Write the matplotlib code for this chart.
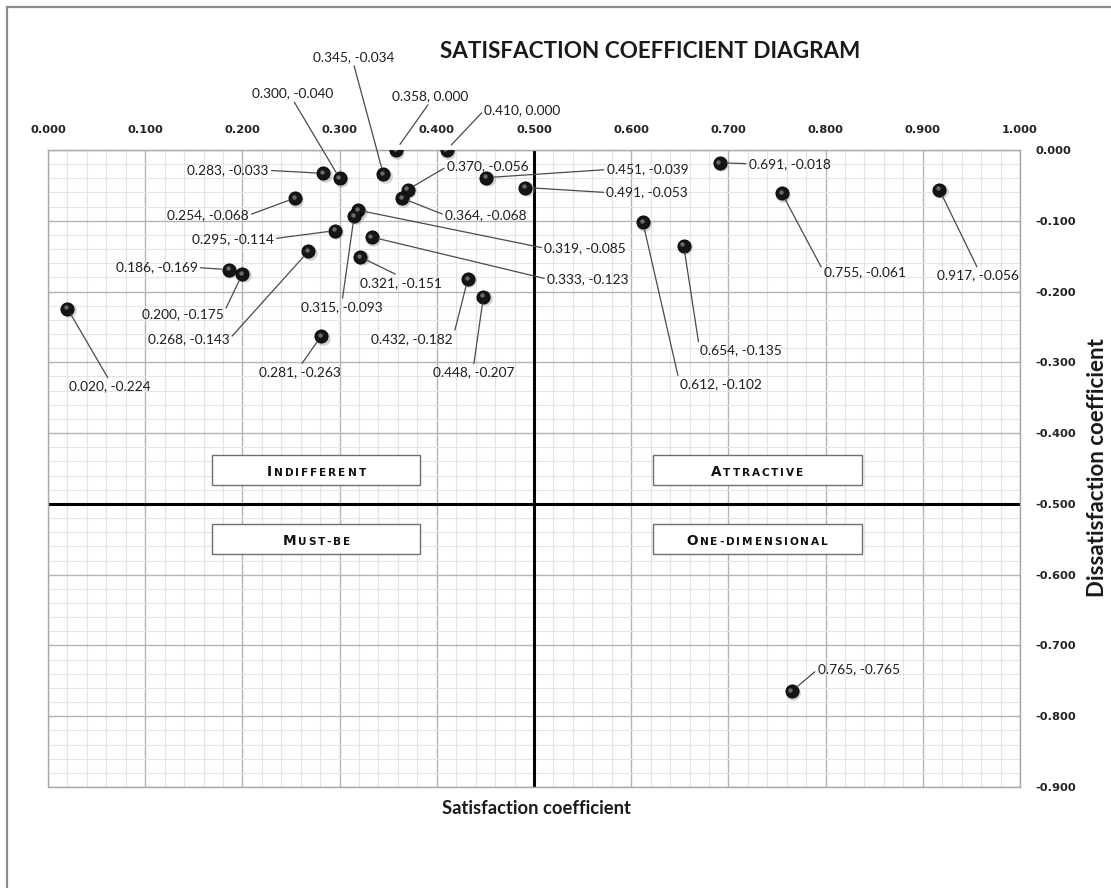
import matplotlib
matplotlib.use("Agg")
import matplotlib.pyplot as plt
import matplotlib.transforms as mtransforms
from matplotlib.patches import Rectangle
from matplotlib.font_manager import FontProperties
import numpy as np

# ---------------- data ----------------
satisfaction = [0.345, 0.300, 0.358, 0.410, 0.283, 0.370, 0.451, 0.491, 0.364,
                0.254, 0.319, 0.295, 0.333, 0.321, 0.186, 0.200, 0.268, 0.315,
                0.020, 0.281, 0.432, 0.448, 0.612, 0.654, 0.691, 0.755, 0.917,
                0.765]
dissatisfaction = [-0.034, -0.040, 0.000, 0.000, -0.033, -0.056, -0.039, -0.053,
                   -0.068, -0.068, -0.085, -0.114, -0.123, -0.151, -0.169, -0.175,
                   -0.143, -0.093, -0.224, -0.263, -0.182, -0.207, -0.102, -0.135,
                   -0.018, -0.061, -0.056, -0.765]
x_ticks = [0.0, 0.1, 0.2, 0.3, 0.4, 0.5, 0.6, 0.7, 0.8, 0.9, 1.0]
y_ticks = [0.0, -0.1, -0.2, -0.3, -0.4, -0.5, -0.6, -0.7, -0.8, -0.9]
quadrant_names = ["Indifferent", "Attractive", "Must-be", "One-dimensional"]

# ---------------- layout (label offsets in pixels, leader side) ----------------
label_offsets = [(-30, 117, 'b'), (-47, 85, 'b'), (34, 54, 'b'), (76, 40, 'l'),
                 (-95, 3, 'r'), (80, 23, 'l'), (161, 8, 'l'), (122, -5, 'l'),
                 (84, -17, 'l'), (-87, -17, 'r'), (227, -38, 'l'), (-102, -8, 'r'),
                 (216, -42, 'l'), (41, -26, 't'), (-72, 2, 'r'), (-60, -40, 'r'),
                 (-120, -88, 'r'), (-12, -91, 't'), (42, -78, 't'), (-21, -36, 't'),
                 (-56, -60, 'r'), (-10, -76, 't'), (78, -162, 'l'), (57, -105, 'l'),
                 (70, -1, 'l'), (83, -79, 'l'), (39, -86, 't'), (67, 22, 'l')]
relpos_map = {'l': (0.0, 0.5), 'r': (1.0, 0.5), 't': (0.5, 1.0), 'b': (0.5, 0.0)}
box_x = {"Indifferent": (0.169, 0.383), "Must-be": (0.169, 0.383),
         "Attractive": (0.622, 0.837), "One-dimensional": (0.622, 0.837)}
box_y = {"Indifferent": (-0.473, -0.431), "Attractive": (-0.473, -0.431),
         "Must-be": (-0.571, -0.528), "One-dimensional": (-0.571, -0.528)}

W, H = 1111, 888
fig = plt.figure(figsize=(W / 100, H / 100), dpi=100)
fig.patch.set_facecolor("white")

# outer frame of the sheet
fig.add_artist(plt.Line2D([7 / W, 7 / W], [0, 1 - 7 / H], color="#8c8c8c", lw=1.6))
fig.add_artist(plt.Line2D([7 / W, 1], [1 - 7 / H, 1 - 7 / H], color="#8c8c8c", lw=1.6))

left, right, top, bottom = 48, 1020, 150, 787
ax = fig.add_axes([left / W, 1 - bottom / H, (right - left) / W, (bottom - top) / H])
ax.set_xlim(0, 1)
ax.set_ylim(-0.9, 0)

# grid
ax.set_xticks(np.array(x_ticks))
ax.set_yticks(np.array(y_ticks))
ax.set_xticks(np.linspace(0, 1, 51), minor=True)
ax.set_yticks(np.linspace(-0.9, 0, 46), minor=True)
ax.grid(which="minor", color="#e4e4e4", lw=0.8, zorder=0)
ax.grid(which="major", color="#b4b4b4", lw=1.0, zorder=0)
ax.set_axisbelow(True)
for sp in ax.spines.values():
    sp.set_color("#a8a8a8")
    sp.set_linewidth(1.0)

ax.xaxis.tick_top()
ax.yaxis.tick_right()
ax.set_xticklabels([f"{v:.3f}" for v in x_ticks])
ax.set_yticklabels([f"{v:.3f}" if v != 0 else "0.000" for v in y_ticks])
ax.tick_params(which="both", length=0)
ax.tick_params(axis="x", pad=11)
ax.tick_params(axis="y", pad=11)
for lab in ax.get_xticklabels() + ax.get_yticklabels():
    lab.set_fontfamily("DejaVu Sans")
    lab.set_fontweight("bold")
    lab.set_fontsize(8.2)
    lab.set_color("#222222")

# quadrant lines
ax.axvline(0.5, color="black", lw=2.2, zorder=2)
ax.axhline(-0.5, color="black", lw=2.2, zorder=2)

# title and axis labels
fig.text(650 / W, 1 - 52 / H, "SATISFACTION COEFFICIENT DIAGRAM", ha="center", va="center",
         fontsize=16.2, fontweight="bold", family="Lato", color="#1a1a1a")
fig.text(536 / W, 1 - 808 / H, "Satisfaction coefficient", ha="center", va="center",
         fontsize=13.2, fontweight="bold", family="Lato", color="#1a1a1a")
fig.text(1097 / W, 1 - 468 / H, "Dissatisfaction coefficient", ha="center", va="center",
         rotation=90, fontsize=16, fontweight="bold", family="Lato", color="#1a1a1a")

# quadrant boxes with small-caps style labels
renderer = fig.canvas.get_renderer()
big = FontProperties(family="DejaVu Sans", weight="bold", size=9.8)
small = FontProperties(family="DejaVu Sans", weight="bold", size=7.6)
spacing = 1.9


def small_caps(xc, yc, s):
    parts = []
    for ch in s:
        if ch.isupper():
            parts.append((ch, big))
        else:
            parts.append((ch.upper(), small))
    widths = []
    for ch, fp in parts:
        w, h, d = renderer.get_text_width_height_descent(ch, fp, ismath=False)
        widths.append(w)
    total = sum(widths) + spacing * (len(parts) - 1)
    xpos = -total / 2
    for (ch, fp), w in zip(parts, widths):
        tr = mtransforms.offset_copy(ax.transData, fig=fig, x=xpos, y=0, units="dots")
        ax.text(xc, yc, ch, fontproperties=fp, ha="left", va="baseline",
                transform=tr, color="#111111", zorder=6)
        xpos += w + spacing


for name in quadrant_names:
    x0, x1 = box_x[name]
    y0, y1 = box_y[name]
    ax.add_patch(Rectangle((x0, y0), x1 - x0, y1 - y0, facecolor="white",
                           edgecolor="#6e6e6e", lw=1.0, zorder=5))
    small_caps((x0 + x1) / 2, y0 + (y1 - y0) * 0.31, name)

# points (with soft shadow and highlight)
sh = mtransforms.offset_copy(ax.transData, fig=fig, x=1.5, y=-1.5, units="dots")
ax.scatter(satisfaction, dissatisfaction, s=110, color="#9a9a9a", alpha=0.45,
           linewidths=0, zorder=7, transform=sh)
ax.scatter(satisfaction, dissatisfaction, s=90, color="#151515", edgecolors="#000000",
           linewidths=0.6, zorder=8)
hl = mtransforms.offset_copy(ax.transData, fig=fig, x=-1.2, y=1.2, units="dots")
ax.scatter(satisfaction, dissatisfaction, s=10, color="#6a6a6a", linewidths=0,
           zorder=9, transform=hl)

# data labels with leader lines
for xv, yv, (dx, dy, side) in zip(satisfaction, dissatisfaction, label_offsets):
    ax.annotate(f"{xv:.3f}, {yv:.3f}", xy=(xv, yv), xytext=(dx, dy),
                textcoords="offset pixels", ha="center", va="center",
                fontsize=9.9, family="Lato", color="#1e1e1e", zorder=10,
                arrowprops=dict(arrowstyle="-", color="#4a4a4a", lw=0.9,
                                shrinkA=0, shrinkB=5, relpos=relpos_map[side]))

fig.savefig("out.png", dpi=100, facecolor="white")
